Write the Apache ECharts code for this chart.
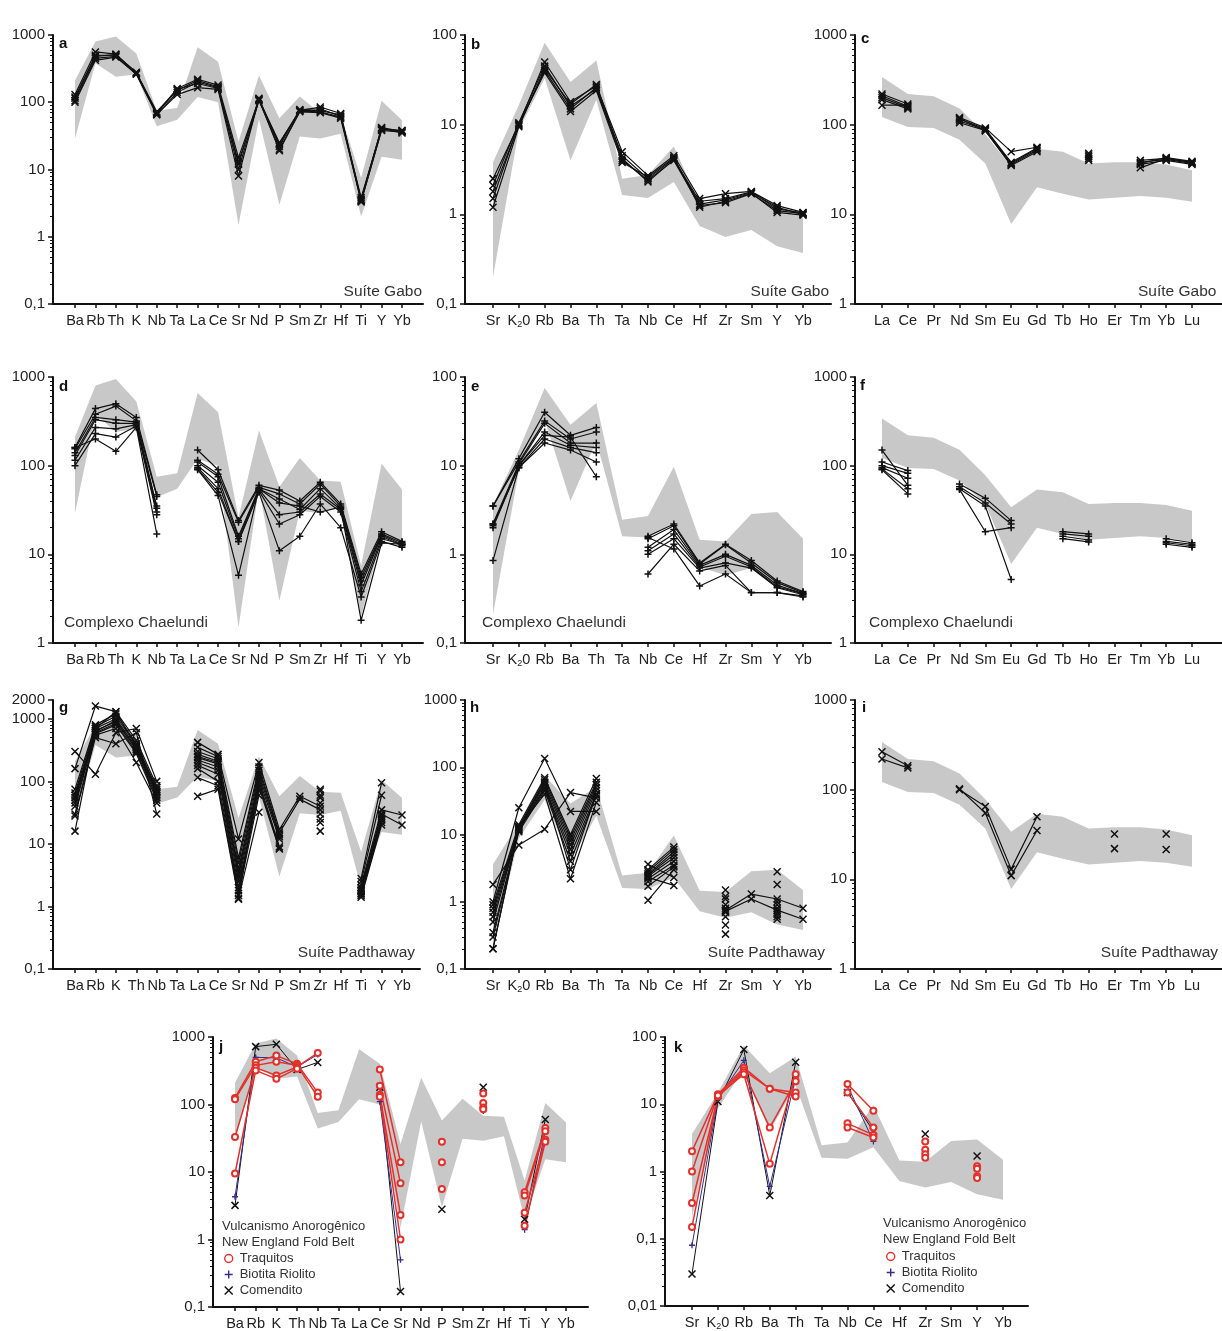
<!DOCTYPE html>
<html>
<head>
<meta charset="utf-8">
<script src="https://cdn.jsdelivr.net/npm/echarts@6/dist/echarts.min.js"></script>
<style>
  html, body { margin: 0; padding: 0; background: #fff; }
  #main { width: 1222px; height: 1331px; }
</style>
</head>
<body>
<div id="main"></div>
<script>
// categorias dos diagramas
var spiderCats = ['Ba', 'Rb', 'Th', 'K', 'Nb', 'Ta', 'La', 'Ce', 'Sr', 'Nd', 'P', 'Sm', 'Zr', 'Hf', 'Ti', 'Y', 'Yb'];
var spiderCatsPad = ['Ba', 'Rb', 'K', 'Th', 'Nb', 'Ta', 'La', 'Ce', 'Sr', 'Nd', 'P', 'Sm', 'Zr', 'Hf', 'Ti', 'Y', 'Yb'];
var mobileCats = ['Sr', 'K2O', 'Rb', 'Ba', 'Th', 'Ta', 'Nb', 'Ce', 'Hf', 'Zr', 'Sm', 'Y', 'Yb'];
var reeCats = ['La', 'Ce', 'Pr', 'Nd', 'Sm', 'Eu', 'Gd', 'Tb', 'Ho', 'Er', 'Tm', 'Yb', 'Lu'];

// campo cinza (referencia)
var spiderBandTop = [210, 800, 950, 530, 75, 82, 660, 400, 26, 250, 58, 122, 68, 66, 7.5, 105, 54];
var spiderBandBottom = [29, 380, 240, 260, 44, 55, 120, 100, 1.5, 56, 3, 31, 29, 34, 2, 15.5, 14];
var gaboMobileBandTop = [3.8, 16.6, 82, 30, 52, 2.5, 2.75, 5.7, 1.3, 1.35, 1.7, 1.15, 1.0];
var gaboMobileBandBottom = [0.2, 8.7, 33, 4.0, 19, 1.64, 1.52, 2.3, 0.74, 0.56, 0.67, 0.44, 0.37];
var mobileBandTop = [3.6, 15, 75, 29, 51, 2.45, 2.7, 9.7, 1.46, 1.4, 2.85, 3.0, 1.5];
var mobileBandBottom = [0.21, 8.7, 33, 4.0, 19, 1.6, 1.55, 2.3, 0.72, 0.58, 0.7, 0.46, 0.38];
var reeBandTop = [340, 220, 207, 151, 78, 34, 54, 50, 37, 38, 38, 36, 31];
var reeBandBottom = [122, 94, 92, 68, 37, 7.8, 20, 17, 14.6, 15.3, 16, 15.3, 13.8];

// Suite Gabo
var gaboSpider = [
  [130, 560, 520, 270, 68, 160, 220, 180, 15, 110, 25, 75, 85, 68, 3.5, 42, 37],
  [120, 500, 500, 280, 70, 150, 210, 170, 12, 115, 22, 78, 80, 62, 3.8, 40, 38],
  [105, 450, 480, 260, 65, 140, 200, 165, 10, 108, 20, 72, 70, 58, 3.4, 38, 36],
  [100, 420, 470, 265, 66, 130, 165, 155, 8, 112, 19, 74, 72, 60, 3.6, 41, 35],
  [115, 480, 510, 275, 72, 155, 190, 160, 13, 105, 24, 76, 75, 65, 3.3, 39, 38]
];
var gaboMobile = [
  [2.5, 10, 50, 18, 27, 5, 2.7, 4.5, 1.5, 1.7, 1.8, 1.25, 1.05],
  [2.1, 10.5, 45, 16, 25, 4.5, 2.5, 4.2, 1.3, 1.45, 1.75, 1.2, 1.0],
  [1.8, 9.8, 40, 15, 26, 4, 2.4, 4.0, 1.25, 1.35, 1.7, 1.1, 1.02],
  [1.5, 10.2, 38, 14, 24, 3.8, 2.6, 4.3, 1.2, 1.4, 1.72, 1.05, 0.98],
  [1.2, 9.5, 42, 17, 28, 4.2, 2.3, 4.1, 1.4, 1.5, 1.78, 1.15, 1.04]
];
var gaboRee = [
  [220, 170, null, 120, 92, 50, 56, null, 48, null, 40, 42, 38],
  [210, 160, null, 115, 90, 38, 55, null, 46, null, 38, 41, 37],
  [200, 155, null, 110, 88, 37, 54, null, 44, null, 37, 43, 39],
  [190, 150, null, 105, 86, 36, 52, null, 42, null, 36, 40, 36],
  [165, 165, null, 118, 85, 35, 50, null, 40, null, 33, 42, 38]
];

// Complexo Chaelundi
var chaelundiSpider = [
  [160, 440, 500, 350, 47, null, 150, 90, 24, 60, 53, 40, 65, 37, 6, 18, 14],
  [155, 380, 470, 320, 45, null, 115, 80, 23, 57, 48, 37, 62, 35, 5.5, 17, 13.5],
  [140, 350, 330, 310, 35, null, 110, 75, 16, 55, 42, 32, 55, 33, 5, 16.5, 13],
  [130, 330, 300, 300, 33, null, 100, 65, 15, 54, 28, 30, 48, 32, 4.5, 16, 12.5],
  [115, 270, 260, 290, 30, null, 95, 55, 14, 52, 22, 28, 45, 30, 3.8, 15, 13],
  [100, 230, 210, 280, 28, null, 92, 50, 14, 50, 11, 16, 37, 20, 3.3, 14, 12],
  [160, 200, 145, 270, 17, null, 90, 46, 5.8, 55, 38, 35, 30, 34, 1.8, 13.5, 13]
];
var chaelundiMobile = [
  [3.5, 12, 40, 22, 27, null, 1.6, 2.2, 0.8, 1.3, 0.85, 0.5, 0.38],
  [3.5, 11, 32, 20, 24, null, 1.5, 2.1, 0.78, 1.28, 0.8, 0.48, 0.37],
  [2.2, 10.5, 30, 18, 18, null, 1.2, 1.9, 0.75, 1.0, 0.75, 0.45, 0.36],
  [2.1, 10, 24, 17, 16, null, 1.1, 1.7, 0.72, 0.95, 0.72, 0.43, 0.36],
  [2.2, 9.5, 20, 16, 14, null, 1.0, 1.5, 0.7, 0.8, 0.7, 0.42, 0.35],
  [0.85, 9.5, 18, 15, 11, null, 0.6, 1.3, 0.65, 0.75, 0.37, 0.37, 0.34],
  [2.0, 10, 22, 21, 7.5, null, 1.55, 1.15, 0.44, 0.6, 0.37, 0.37, 0.33]
];
var chaelundiRee = [
  [150, 60, null, 55, 35, 5.2, null, 18, 17, null, null, 15, 13.5],
  [110, 88, null, 62, 43, 24, null, 17, 16, null, null, 14, 13],
  [100, 82, null, 58, 38, 22, null, 16, 14.5, null, null, 13.5, 12.5],
  [95, 72, null, 54, 18, 20, null, 15, 13.8, null, null, 13, 12],
  [92, 55, null, null, null, null, null, null, null, null, null, null, null],
  [90, 48, null, null, null, null, null, null, null, null, null, null, null]
];

// Suite Padthaway
var padthawaySpider = [
  [300, 130, 600, 700, 100, null, 420, 270, 12, 200, 17, 58, 40, null, 2.8, 95, null],
  [160, 1600, 1300, 450, 85, null, 350, 250, 6, 170, 15, 52, 35, null, 2.5, 60, null],
  [75, 800, 1200, 400, 75, null, 300, 230, 5, 150, 14, null, 75, null, 2.2, 35, 29],
  [65, 750, 1100, 380, 70, null, 270, 210, 4, 130, 13, null, 60, null, 2.0, 30, 20],
  [55, 700, 1000, 350, 65, null, 240, 190, 3.5, 110, 12, null, 55, null, 1.9, 28, null],
  [50, 650, 900, 330, 60, null, 220, 170, 3, 100, 9, null, 45, null, 1.8, 26, null],
  [45, 600, 850, 300, 55, null, 200, 150, 2.5, 90, 8.5, null, 30, null, 1.7, 25, null],
  [40, 580, 800, 280, 50, null, 180, 130, 2, 80, 8.3, null, 25, null, 1.6, 24, null],
  [30, 550, 700, 200, 45, null, 160, 100, 1.8, 70, null, null, 22, null, 1.5, 22, null],
  [28, 500, 400, 600, 30, null, 115, 85, 1.5, 60, null, null, 16, null, 1.4, 20, null],
  [16, 700, 1300, 360, 80, null, 58, 75, 1.35, 32, null, null, null, null, 1.6, null, null],
  [60, 620, 950, 320, 68, null, 250, 200, 1.3, 120, null, null, 70, null, 1.8, 30, null]
];
var padthawayMobile = [
  [1.8, 7, 12, 42, 35, null, 3.6, 2.3, null, 0.75, 1.3, 1.1, 0.8],
  [1.0, 25, 135, 22, 22, null, 1.05, 3.0, null, 0.72, 1.1, 0.75, 0.55],
  [0.9, 14, 70, 10, 68, null, 3.0, 6.5, null, 1.5, null, 2.8, null],
  [0.8, 13, 65, 9, 60, null, 2.8, 6, null, 1.2, null, 1.8, null],
  [0.7, 12.5, 60, 8, 55, null, 2.6, 5.5, null, 1.1, null, 1.0, null],
  [0.6, 12, 55, 7, 50, null, 2.5, 5, null, 0.9, null, 0.9, null],
  [0.5, 12, 50, 6, 45, null, 2.4, 4.5, null, 0.7, null, 0.8, null],
  [0.35, 11.5, 48, 5, 40, null, 2.2, 4, null, 0.6, null, 0.7, null],
  [0.3, 11, 45, 4, 38, null, 2.0, 3.5, null, 0.45, null, 0.65, null],
  [0.2, 13, 40, 2.2, 30, null, 1.7, 3.3, null, 0.33, null, 0.6, null],
  [0.2, 12.5, 60, 3, 40, null, 2.3, 1.75, null, 0.8, null, 0.55, null]
];
var padthawayRee = [
  [265, 185, null, 100, 65, 13, 50, null, null, 32, null, 32, null],
  [220, 175, null, 102, 55, 11, 35, null, null, 22, null, 21.5, null]
];

// Vulcanismo anorogenico - New England Fold Belt
var traquitosSpider = [
  [125, 430, 530, 400, 150, null, null, 330, 14, null, 28, null, 145, null, 5, 45, null],
  [120, 380, 430, 380, 130, null, null, 190, 6.8, null, 14, null, 105, null, 4.5, 40, null],
  [33, 350, 270, 360, 580, null, null, 140, 2.3, null, 5.6, null, 90, null, 2.5, 30, null],
  [9.5, 320, 240, 340, null, null, null, 130, 1.0, null, null, null, 85, null, 1.6, 28, null]
];
var riolitoSpider = [[4.3, 500, 490, 360, 550, null, null, 110, 0.5, null, 5.6, null, 80, null, 1.4, 40, null]];
var comenditoSpider = [[3.2, 720, 780, 330, 420, null, null, 180, 0.17, null, 2.8, null, 180, null, 2.0, 60, null]];
var traquitosMobile = [
  [2.0, 14, 35, 17, 15, null, 20, 8, null, 2.8, null, 1.2, null],
  [1.0, 14, 32, 17, 13, null, 15, 4.5, null, 2.1, null, 1.1, null],
  [0.34, 13, 30, 4.5, 22, null, 5.2, 3.5, null, 1.8, null, 0.85, null],
  [0.15, 13.5, 28, 1.3, 28, null, 4.5, 3.2, null, 1.6, null, 0.8, null]
];
var riolitoMobile = [[0.08, 12, 45, 0.6, 25, null, 19, 2.8, null, 1.6, null, 1.1, null]];
var comenditoMobile = [[0.03, 11, 65, 0.44, 42, null, 15, 4, null, 3.6, null, 1.7, null]];

var FONT = '"Liberation Sans", Arial, sans-serif';
var GRAY = '#c8c8c8';
var RED = '#e3302b';
var BLUE = '#2f2f8f';
var BLACK = '#111';
var CROSS = 'path://M0,0L10,10M10,0L0,10';
var PLUS = 'path://M5,0L5,10M0,5L10,5';

var black = function (rows, sym) { return {rows: rows, symbol: sym, color: BLACK, width: 1.2, size: 7, stroke: 1.5}; };

var panels = [
  {letter: 'a', cats: spiderCats, band: [spiderBandBottom, spiderBandTop], ymin: 0.1, ymax: 1000,
    box: {l: 53, r: 423, t: 35, b: 304, f: 75, e: 402}, groups: [black(gaboSpider, CROSS)]},
  {letter: 'b', cats: mobileCats, band: [gaboMobileBandBottom, gaboMobileBandTop], ymin: 0.1, ymax: 100,
    box: {l: 465, r: 831, t: 35, b: 304, f: 493, e: 803}, groups: [black(gaboMobile, CROSS)]},
  {letter: 'c', cats: reeCats, band: [reeBandBottom, reeBandTop], ymin: 1, ymax: 1000,
    box: {l: 855, r: 1222, t: 35, b: 304, f: 882, e: 1192}, groups: [black(gaboRee, CROSS)]},
  {letter: 'd', cats: spiderCats, band: [spiderBandBottom, spiderBandTop], ymin: 1, ymax: 1000,
    box: {l: 53, r: 423, t: 377, b: 643, f: 75, e: 402}, groups: [black(chaelundiSpider, PLUS)]},
  {letter: 'e', cats: mobileCats, band: [mobileBandBottom, mobileBandTop], ymin: 0.1, ymax: 100,
    box: {l: 465, r: 831, t: 377, b: 643, f: 493, e: 803}, groups: [black(chaelundiMobile, PLUS)]},
  {letter: 'f', cats: reeCats, band: [reeBandBottom, reeBandTop], ymin: 1, ymax: 1000,
    box: {l: 855, r: 1222, t: 377, b: 643, f: 882, e: 1192}, groups: [black(chaelundiRee, PLUS)]},
  {letter: 'g', cats: spiderCatsPad, band: [spiderBandBottom, spiderBandTop], ymin: 0.1, ymax: 2000,
    box: {l: 53, r: 420, t: 700, b: 969, f: 75, e: 402}, groups: [black(padthawaySpider, CROSS)]},
  {letter: 'h', cats: mobileCats, band: [mobileBandBottom, mobileBandTop], ymin: 0.1, ymax: 1000,
    box: {l: 465, r: 831, t: 700, b: 969, f: 493, e: 803}, groups: [black(padthawayMobile, CROSS)]},
  {letter: 'i', cats: reeCats, band: [reeBandBottom, reeBandTop], ymin: 1, ymax: 1000,
    box: {l: 855, r: 1222, t: 700, b: 969, f: 882, e: 1192}, groups: [black(padthawayRee, CROSS)]},
  {letter: 'j', cats: spiderCatsPad, band: [spiderBandBottom, spiderBandTop], ymin: 0.1, ymax: 1000,
    box: {l: 213, r: 588, t: 1037, b: 1307, f: 235, e: 566}, groups: [
      {name: 'Comendito', rows: comenditoSpider, symbol: CROSS, color: BLACK, width: 1, size: 7, stroke: 1.5},
      {name: 'Biotita Riolito', rows: riolitoSpider, symbol: PLUS, color: BLUE, width: 1, size: 6, stroke: 1.3},
      {name: 'Traquitos', rows: traquitosSpider, symbol: 'emptyCircle', color: RED, width: 1.5, size: 6, stroke: 1.2}
    ]},
  {letter: 'k', cats: mobileCats, band: [mobileBandBottom, mobileBandTop], ymin: 0.01, ymax: 100,
    box: {l: 665, r: 1028, t: 1037, b: 1307, f: 692, e: 1003}, groups: [
      {name: 'Comendito', rows: comenditoMobile, symbol: CROSS, color: BLACK, width: 1, size: 7, stroke: 1.5},
      {name: 'Biotita Riolito', rows: riolitoMobile, symbol: PLUS, color: BLUE, width: 1, size: 6, stroke: 1.3},
      {name: 'Traquitos', rows: traquitosMobile, symbol: 'emptyCircle', color: RED, width: 1.5, size: 6, stroke: 1.2}
    ]}
];

var grids = [], xAxes = [], yAxes = [], series = [];

function bandSeries(k, lower, upper) {
  return {
    type: 'custom', xAxisIndex: k, yAxisIndex: k, z: 1, silent: true,
    data: [[0, upper[0]]],
    renderItem: function (params, api) {
      var pts = [];
      for (var i = 0; i < upper.length; i++) pts.push(api.coord([i, upper[i]]));
      for (var j = lower.length - 1; j >= 0; j--) pts.push(api.coord([j, lower[j]]));
      return {type: 'polygon', shape: {points: pts}, style: {fill: GRAY}};
    }
  };
}

function lineSeries(k, row, g) {
  return {
    type: 'line', name: g.name, xAxisIndex: k, yAxisIndex: k, z: 3,
    data: row.map(function (v, i) { return [i, v == null ? '-' : v]; }),
    symbol: g.symbol, symbolSize: g.size, showSymbol: true, connectNulls: false,
    lineStyle: {color: g.color, width: g.width},
    itemStyle: {color: g.color, borderColor: g.color, borderWidth: g.stroke}
  };
}

panels.forEach(function (p, k) {
  var n = p.cats.length;
  var sp = (p.box.e - p.box.f) / (n - 1);
  var idx = p.cats.map(function (c, i) { return i; });
  grids.push({left: p.box.l, top: p.box.t, width: p.box.r - p.box.l, height: p.box.b - p.box.t});
  xAxes.push({
    gridIndex: k, type: 'value',
    min: -(p.box.f - p.box.l) / sp, max: n - 1 + (p.box.r - p.box.e) / sp,
    axisLine: {show: true, onZero: false, lineStyle: {color: BLACK, width: 2}},
    axisTick: {show: true, customValues: idx, length: 4, lineStyle: {color: BLACK, width: 1.5}},
    axisLabel: {
      customValues: idx, margin: 9, fontSize: 14.5, color: '#222', fontFamily: FONT,
      formatter: function (v) {
        var c = p.cats[Math.round(v)];
        return c === 'K2O' ? '{n|K}{s|2}{n|0}' : c;
      },
      rich: {n: {fontSize: 14.5, fontFamily: FONT, color: '#222'},
             s: {fontSize: 9, fontFamily: FONT, color: '#222', padding: [7, 0, 0, 0]}}
    },
    splitLine: {show: false}
  });
  yAxes.push({
    gridIndex: k, type: 'log', logBase: 10, min: p.ymin, max: p.ymax,
    axisLine: {show: true, onZero: false, lineStyle: {color: BLACK, width: 2}},
    axisTick: {show: true, length: 5, lineStyle: {color: BLACK, width: 1.5}},
    minorTick: {show: true, splitNumber: 9, length: 3, lineStyle: {color: BLACK, width: 1}},
    axisLabel: {fontSize: 15, color: '#222', fontFamily: FONT, margin: 8, showMinLabel: true, showMaxLabel: true,
      formatter: function (v) { return String(v).replace('.', ','); }},
    splitLine: {show: false},
    minorSplitLine: {show: false}
  });
  series.push(bandSeries(k, p.band[0], p.band[1]));
  p.groups.forEach(function (g) {
    g.rows.forEach(function (row) { series.push(lineSeries(k, row, g)); });
  });
});

var titles = [];
var letterPos = {a: [59, 36], b: [471, 37], c: [861, 31], d: [59, 379], e: [471, 379], f: [860, 378],
                 g: [59, 700], h: [470, 700], i: [862, 700], j: [219, 1039], k: [674, 1040]};
panels.forEach(function (p) {
  titles.push({text: p.letter, left: letterPos[p.letter][0], top: letterPos[p.letter][1], padding: 0,
    textStyle: {fontSize: 15, fontWeight: 'bold', color: '#111', fontFamily: FONT}});
});
function note(text, pos) {
  var t = {text: text, top: pos.top, padding: 0,
    textStyle: {fontSize: 15.5, fontWeight: 'normal', color: '#333', fontFamily: FONT, lineHeight: 17}};
  if (pos.left != null) t.left = pos.left; else t.right = pos.right;
  titles.push(t);
}
note('Suíte Gabo', {right: 800, top: 283});
note('Suíte Gabo', {right: 393, top: 283});
note('Suíte Gabo', {left: 1138, top: 283});
note('Complexo Chaelundi', {left: 64, top: 614});
note('Complexo Chaelundi', {left: 482, top: 614});
note('Complexo Chaelundi', {left: 869, top: 614});
note('Suíte Padthaway', {right: 807, top: 944});
note('Suíte Padthaway', {right: 397, top: 944});
note('Suíte Padthaway', {right: 4, top: 944});
[[222, 1218], [883, 1215]].forEach(function (pos) {
  titles.push({text: 'Vulcanismo Anorogênico\nNew England Fold Belt', left: pos[0], top: pos[1], padding: 0,
    textStyle: {fontSize: 13, fontWeight: 'normal', color: '#333', fontFamily: FONT, lineHeight: 16}});
});

var legendItems = [
  {name: 'Traquitos', icon: 'circle', itemStyle: {color: 'rgba(0,0,0,0)', borderColor: RED, borderWidth: 1.4}},
  {name: 'Biotita Riolito', icon: PLUS, itemStyle: {color: 'rgba(0,0,0,0)', borderColor: BLUE, borderWidth: 1.4}},
  {name: 'Comendito', icon: CROSS, itemStyle: {color: 'rgba(0,0,0,0)', borderColor: BLACK, borderWidth: 1.4}}
];
var legends = [[224, 1252], [886, 1250]].map(function (pos) {
  return {left: pos[0], top: pos[1], orient: 'vertical', padding: 0, itemWidth: 8, itemHeight: 8, itemGap: 3,
    selectedMode: false, data: legendItems,
    textStyle: {fontSize: 13, color: '#333', fontFamily: FONT, lineHeight: 13, padding: [0, 0, 0, 2]}};
});

var chart = echarts.init(document.getElementById('main'));
chart.setOption({
  animation: false,
  backgroundColor: '#fff',
  textStyle: {fontFamily: FONT},
  title: titles,
  legend: legends,
  grid: grids,
  xAxis: xAxes,
  yAxis: yAxes,
  series: series
});
</script>
</body>
</html>
